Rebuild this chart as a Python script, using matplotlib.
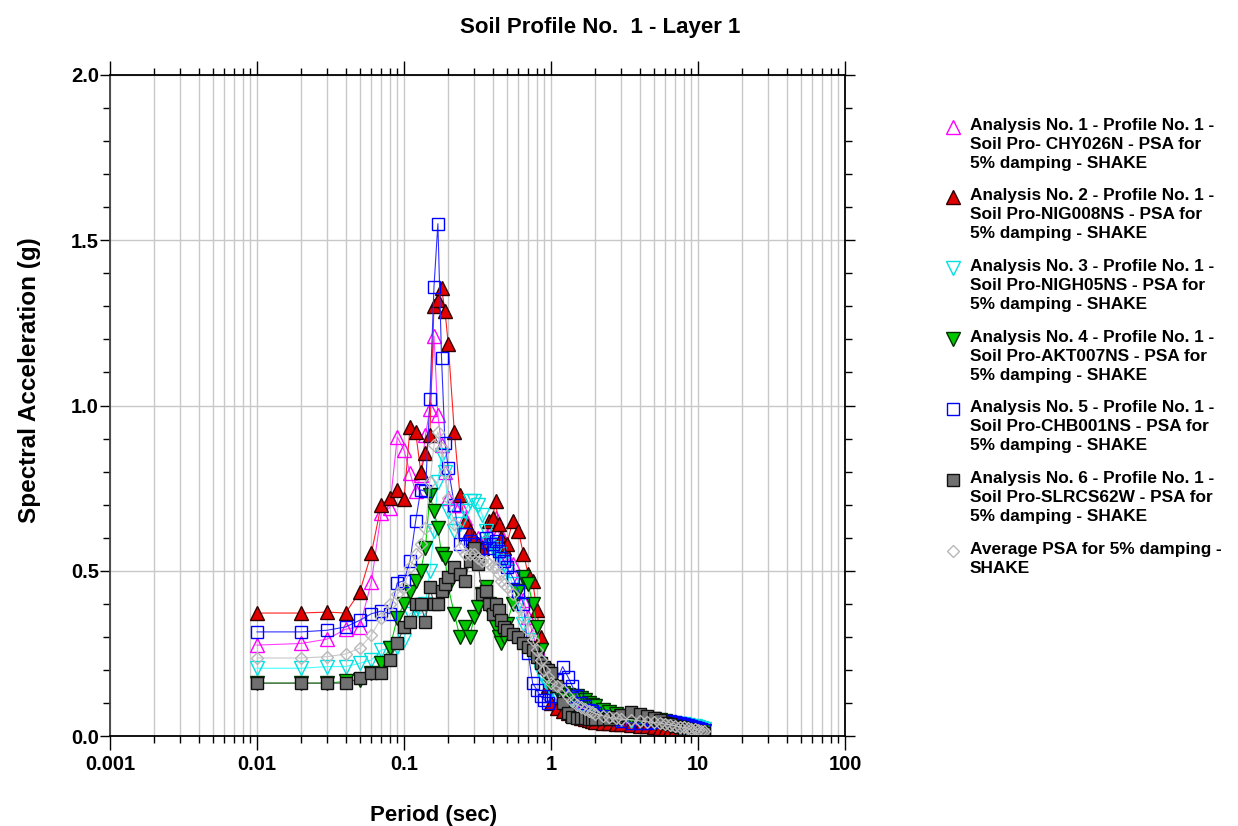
import matplotlib
matplotlib.use('Agg')
import matplotlib.pyplot as plt
from matplotlib.lines import Line2D
from matplotlib.ticker import FixedLocator, MultipleLocator, FuncFormatter, NullFormatter

plt.rcParams['font.family'] = ['Liberation Sans', 'DejaVu Sans']
plt.rcParams['font.weight'] = 'bold'

# periods (sec)
period = [0.01, 0.02, 0.03, 0.04, 0.05, 0.06, 0.07, 0.08, 0.09, 0.10,
          0.11, 0.12, 0.13, 0.14, 0.15, 0.16, 0.17, 0.18, 0.19, 0.20,
          0.22, 0.24, 0.26, 0.28, 0.30, 0.32, 0.34, 0.36, 0.38, 0.40,
          0.42, 0.44, 0.46, 0.48, 0.50, 0.55, 0.60, 0.65, 0.70, 0.75,
          0.80, 0.85, 0.90, 0.95, 1.0, 1.1, 1.2, 1.3, 1.4, 1.5,
          1.6, 1.7, 1.8, 1.9, 2.0, 2.25, 2.5, 2.75, 3.0, 3.5,
          4.0, 4.5, 5.0, 5.5, 6.0, 6.5, 7.0, 7.5, 8.0, 8.5,
          9.0, 9.5, 10.0, 10.5, 11.0]

# spectral acceleration (g), one list per analysis
psa_chy026n = [.275, .28, .293, .323, .33, .466, .675, .69, .905, .865,
               .795, .74, .79, .91, .99, 1.21, .97, .88, .80, .72,
               .70, .70, .66, .62, .60, .60, .58, .60, .61, .64,
               .66, .62, .58, .55, .54, .52, .47, .41, .36, .31,
               .27, .24, .21, .19, .17, .15, .13, .12, .105, .095,
               .088, .082, .077, .072, .068, .06, .055, .05, .045, .04,
               .036, .033, .03, .028, .026, .024, .022, .02, .019, .018,
               .017, .016, .015, .014, .013]
psa_nig008ns = [.372, .372, .375, .372, .436, .553, .70, .72, .745, .717,
                .935, .92, .80, .856, .91, 1.30, 1.32, 1.355, 1.286, 1.186,
                .92, .73, .65, .62, .60, .58, .57, .59, .65, .66,
                .71, .64, .60, .57, .58, .65, .62, .55, .49, .47,
                .38, .30, .22, .15, .10, .085, .075, .07, .065, .06,
                .055, .05, .048, .045, .042, .04, .038, .036, .035, .033,
                .031, .03, .028, .025, .022, .02, .018, .016, .014, .013,
                .012, .011, .01, .009, .008]
psa_nigh05ns = [.205, .205, .21, .21, .22, .23, .26, .265, .27, .29,
                .37, .38, .37, .40, .50, .62, .77, .85, .80, .68,
                .62, .64, .68, .71, .71, .70, .67, .62, .58, .57,
                .56, .55, .53, .52, .50, .46, .40, .34, .29, .25,
                .22, .19, .17, .15, .14, .12, .11, .10, .09, .085,
                .08, .075, .07, .066, .063, .058, .054, .05, .048, .046,
                .045, .044, .043, .042, .041, .04, .038, .037, .035, .033,
                .031, .029, .027, .024, .021]
psa_akt007ns = [.16, .16, .16, .165, .17, .19, .22, .265, .357, .40,
                .436, .47, .50, .57, .73, .68, .63, .55, .54, .45,
                .37, .30, .33, .30, .36, .39, .43, .45, .40, .36,
                .33, .30, .28, .30, .34, .40, .44, .48, .46, .40,
                .33, .26, .20, .17, .15, .14, .13, .125, .12, .12,
                .115, .11, .10, .095, .09, .08, .072, .066, .062, .058,
                .055, .052, .05, .047, .044, .04, .036, .032, .029, .026,
                .023, .02, .018, .016, .014]
psa_chb001ns = [.315, .315, .32, .33, .35, .37, .378, .37, .463, .47,
                .53, .65, .745, .74, 1.02, 1.36, 1.55, 1.145, .887, .81,
                .70, .58, .61, .59, .58, .55, .57, .60, .57, .58,
                .59, .56, .54, .53, .51, .48, .44, .40, .25, .16,
                .14, .12, .11, .10, .12, .17, .21, .18, .15, .12,
                .10, .09, .08, .075, .07, .062, .055, .05, .045, .04,
                .038, .04, .042, .045, .046, .045, .042, .04, .037, .034,
                .03, .027, .024, .02, .017]
psa_slrcs62w = [.16, .16, .16, .16, .175, .19, .19, .23, .28, .33,
                .345, .40, .40, .345, .45, .40, .40, .44, .46, .48,
                .51, .49, .47, .53, .57, .52, .43, .44, .40, .37,
                .40, .38, .35, .33, .32, .31, .30, .28, .27, .26,
                .24, .22, .21, .20, .19, .15, .10, .07, .057, .055,
                .054, .053, .052, .052, .05, .05, .052, .058, .065, .072,
                .068, .062, .055, .048, .04, .035, .03, .026, .022, .02,
                .018, .016, .014, .012, .01]
psa_average = [.236, .236, .24, .248, .266, .306, .357, .40, .43, .45,
               .51, .55, .58, .63, .77, .88, .92, .87, .80, .72,
               .64, .57, .55, .55, .55, .54, .53, .53, .52, .51,
               .51, .49, .47, .46, .45, .43, .39, .36, .32, .29,
               .26, .23, .20, .18, .16, .15, .14, .12, .105, .095,
               .088, .082, .077, .073, .068, .061, .056, .053, .051, .049,
               .046, .043, .041, .039, .036, .034, .031, .028, .026, .024,
               .022, .02, .018, .016, .014]

labels = [
    'Analysis No. 1 - Profile No. 1 -\nSoil Pro- CHY026N - PSA for\n5% damping - SHAKE',
    'Analysis No. 2 - Profile No. 1 -\nSoil Pro-NIG008NS - PSA for\n5% damping - SHAKE',
    'Analysis No. 3 - Profile No. 1 -\nSoil Pro-NIGH05NS - PSA for\n5% damping - SHAKE',
    'Analysis No. 4 - Profile No. 1 -\nSoil Pro-AKT007NS - PSA for\n5% damping - SHAKE',
    'Analysis No. 5 - Profile No. 1 -\nSoil Pro-CHB001NS - PSA for\n5% damping - SHAKE',
    'Analysis No. 6 - Profile No. 1 -\nSoil Pro-SLRCS62W - PSA for\n5% damping - SHAKE',
    'Average PSA for 5% damping -\nSHAKE',
]

# (values, line colour, marker, face, edge, size)
styles = [
    (psa_chy026n, '#ff40ff', '^', 'none', '#ff00ff', 9.5),
    (psa_nig008ns, '#ff2020', '^', '#e00000', '#300000', 9.5),
    (psa_nigh05ns, '#40ffff', 'v', 'none', '#00e0e0', 9.5),
    (psa_akt007ns, '#00d000', 'v', '#00c800', '#003000', 9.5),
    (psa_chb001ns, '#3030ff', 's', 'none', '#0000ff', 8.5),
    (psa_slrcs62w, '#505050', 's', '#707070', '#101010', 8.5),
    (psa_average, '#c8c8c8', 'D', 'none', '#b8b8b8', 6.5),
]

W, H = 1238, 826
fig = plt.figure(figsize=(W / 100, H / 100), dpi=100)
ax = fig.add_axes([110 / W, 1 - 736 / H, 735 / W, 661 / H])

for vals, lc, mk, fc, ec, ms in styles:
    ax.plot(period, vals, color=lc, lw=0.8, marker=mk, markersize=ms,
            markerfacecolor=fc, markeredgecolor=ec, markeredgewidth=1.0)

ax.set_xscale('log')
ax.set_xlim(0.001, 100)
ax.set_ylim(0, 2.0)

ax.xaxis.set_major_locator(FixedLocator([0.001, 0.01, 0.1, 1, 10, 100]))
ax.xaxis.set_major_formatter(FuncFormatter(lambda v, p: '%g' % v))
ax.xaxis.set_minor_formatter(NullFormatter())
ax.yaxis.set_major_locator(MultipleLocator(0.5))
ax.yaxis.set_minor_locator(MultipleLocator(0.1))
ax.yaxis.set_major_formatter(FuncFormatter(lambda v, p: '%.1f' % v))

ax.grid(True, which='both', axis='x', color='#c8c8c8', lw=1.0)
ax.grid(True, which='major', axis='y', color='#c8c8c8', lw=1.0)
ax.set_axisbelow(True)

ax.tick_params(which='both', direction='out', top=True, right=True,
               labelsize=14.5, width=1.0)
ax.tick_params(axis='x', which='major', length=10, pad=4)
ax.tick_params(axis='x', which='minor', length=5)
ax.tick_params(axis='y', which='major', length=7, pad=1)
ax.tick_params(axis='y', which='minor', length=5)
for s in ax.spines.values():
    s.set_linewidth(1.3)
ax.spines['left'].set_color('#404040')

# titles and axis labels
fig.text(600 / W, 1 - 27 / H, 'Soil Profile No.  1 - Layer 1', ha='center',
         va='center', fontsize=16, fontweight='bold')
fig.text(434 / W, 1 - 815 / H, 'Period (sec)', ha='center', va='center',
         fontsize=16, fontweight='bold')
fig.text(30 / W, 1 - 380 / H, 'Spectral Acceleration (g)', ha='center',
         va='center', rotation=90, fontsize=17.5, fontweight='bold')

# legend
first_line_y = [127, 197, 268, 339, 409, 480, 551]
for (vals, lc, mk, fc, ec, ms), lab, py in zip(styles, labels, first_line_y):
    fig.add_artist(Line2D([953 / W], [1 - py / H], transform=fig.transFigure,
                          ls='none', marker=mk, markersize=ms,
                          markerfacecolor=fc, markeredgecolor=ec,
                          markeredgewidth=1.0))
    fig.text(970 / W, 1 - (py - 9) / H, lab, ha='left', va='top',
             fontsize=12.4, fontweight='bold', linespacing=1.32)

fig.savefig('out.png', dpi=100)
